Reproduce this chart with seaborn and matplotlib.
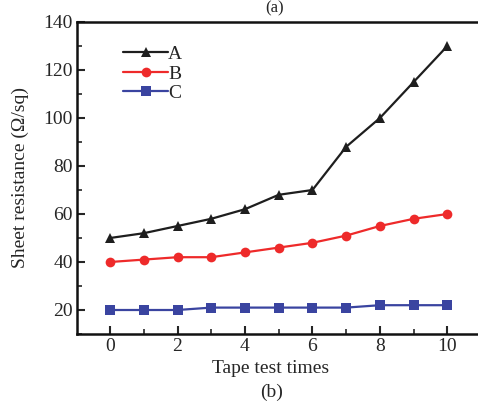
import matplotlib
matplotlib.use("Agg")
import matplotlib.pyplot as plt
import seaborn as sns
import pandas as pd
from matplotlib.ticker import MultipleLocator

times = [0, 1, 2, 3, 4, 5, 6, 7, 8, 9, 10]
series_a = [50, 52, 55, 58, 62, 68, 70, 88, 100, 115, 130]
series_b = [40, 41, 42, 42, 44, 46, 48, 51, 55, 58, 60]
series_c = [20, 20, 20, 21, 21, 21, 21, 21, 22, 22, 22]
names = ["A", "B", "C"]

df = pd.DataFrame({
    "t": times * 3,
    "v": series_a + series_b + series_c,
    "s": [names[0]] * len(times) + [names[1]] * len(times) + [names[2]] * len(times),
})

sns.set_style("ticks")
plt.rcParams["font.family"] = ["Liberation Serif", "DejaVu Serif"]
plt.rcParams["mathtext.fontset"] = "stix"

fig = plt.figure(figsize=(4.78, 4.03), dpi=100)
ax = fig.add_axes([77 / 478, 69 / 403, 1 - 77 / 478 + 0.01, (334 - 22) / 403])

palette = {"A": "#1e1e1e", "B": "#ee2a2a", "C": "#3a44a0"}
markers = {"A": "^", "B": "o", "C": "s"}
sns.lineplot(data=df, x="t", y="v", hue="s", style="s", palette=palette,
             markers=markers, dashes=False, markersize=7, linewidth=1.6,
             markeredgewidth=0, ax=ax)

ax.set_xlim(-0.98, 11.05)
ax.set_ylim(10, 140)
ax.xaxis.set_major_locator(MultipleLocator(2))
ax.xaxis.set_minor_locator(MultipleLocator(1))
ax.yaxis.set_major_locator(MultipleLocator(20))
ax.yaxis.set_minor_locator(MultipleLocator(10))
ax.set_yticks([20, 40, 60, 80, 100, 120, 140])
ax.tick_params(which="major", direction="in", length=6, width=1.5, labelsize=14, pad=3)
ax.tick_params(which="minor", direction="in", length=3.5, width=1.2)
for side in ["left", "bottom", "top"]:
    ax.spines[side].set_linewidth(1.8)
    ax.spines[side].set_color("#111111")
ax.spines["right"].set_visible(False)

ax.set_xlabel("")
ax.set_ylabel("")
fig.text(20 / 478, 1 - 178 / 403, "Sheet resistance (Ω/sq)", rotation=90,
         ha="center", va="center", fontsize=14)
fig.text(271 / 478, 1 - 373 / 403, "Tape test times", ha="center", va="baseline", fontsize=14)
fig.text(272 / 478, 1 - 397 / 403, "(b)", ha="center", va="baseline", fontsize=14)
fig.text(275 / 478, 1.0, "(a)", ha="center", va="top", fontsize=12)

leg = ax.legend(loc="upper left", bbox_to_anchor=(0.095, 0.95), frameon=False,
                fontsize=14, handlelength=2.3, handletextpad=0.0,
                labelspacing=0.1, borderaxespad=0)
for h in leg.legend_handles:
    h.set_markersize(7)

fig.savefig("out.png", dpi=100, facecolor="white")
